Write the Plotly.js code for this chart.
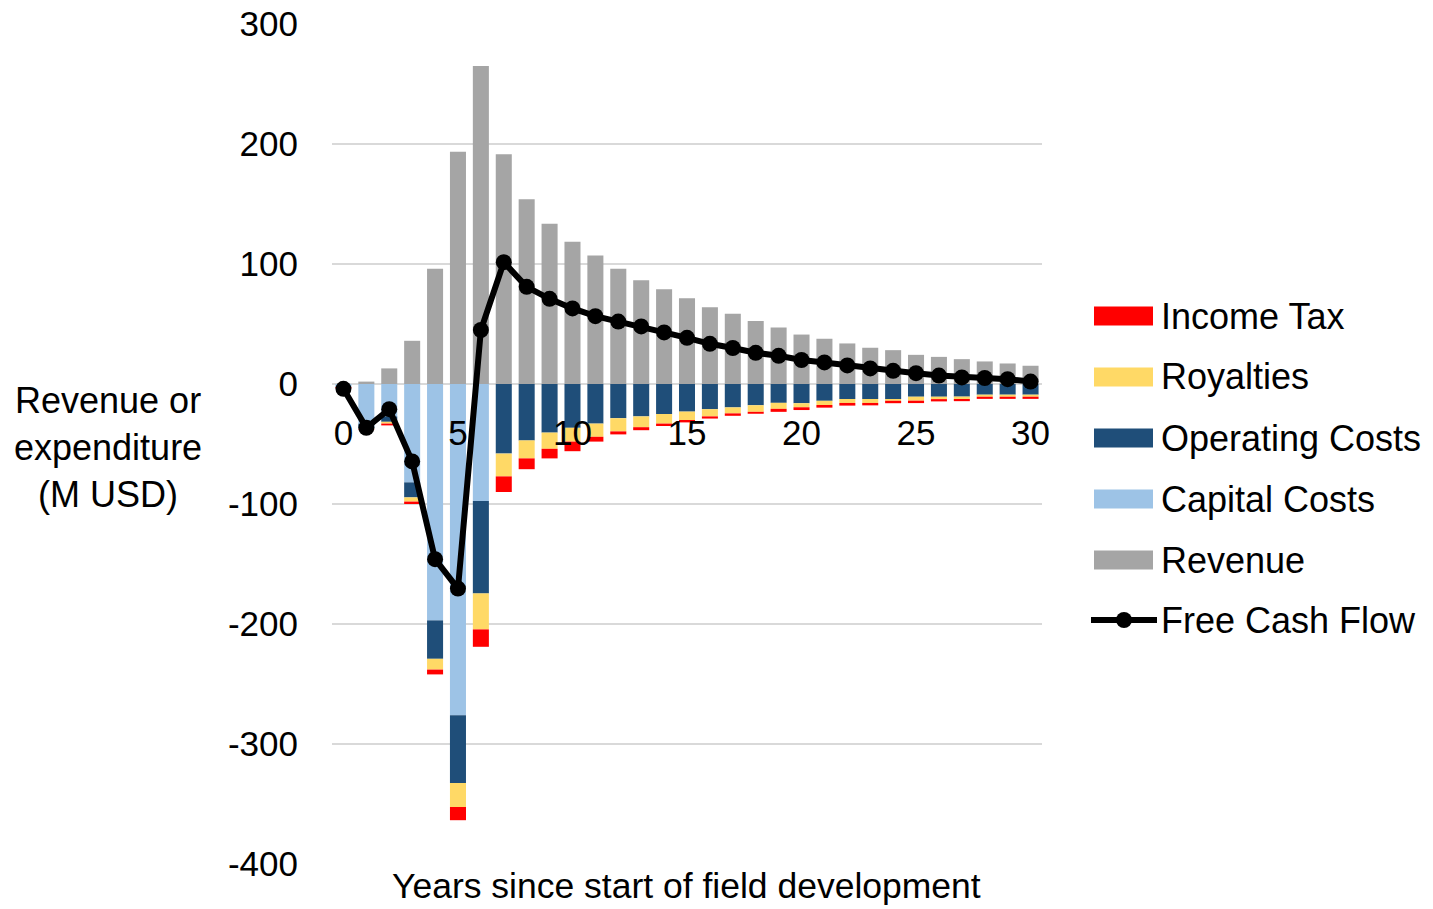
<!DOCTYPE html>
<html>
<head>
<meta charset="utf-8">
<script src="https://cdn.plot.ly/plotly-3.0.1.min.js"></script>
<style>
  html, body { margin: 0; padding: 0; background: #ffffff; }
  #chart { width: 1433px; height: 909px; }
</style>
</head>
<body>
<div id="chart"></div>
<script>
// ---- Data (M USD) ----
const years = [0,1,2,3,4,5,6,7,8,9,10,11,12,13,14,15,16,17,18,19,20,21,22,23,24,25,26,27,28,29,30];
const revenue = [0, 2, 13, 36, 96, 193.5, 265, 191.5, 154, 133.5, 118.5, 107, 96, 86.5, 79, 71.5, 64, 58.5, 52.5, 47, 41.2, 37.7, 33.8, 30.2, 28.2, 24.3, 22.6, 20.7, 18.8, 17.1, 15.2];
const capitalCosts = [-2.5, -33, -27, -82, -197, -276, -97.5, 0, 0, 0, 0, 0, 0, 0, 0, 0, 0, 0, 0, 0, 0, 0, 0, 0, 0, 0, 0, 0, 0, 0, 0];
const operatingCosts = [0, -4, -4.5, -12.5, -32, -56.5, -77, -58, -47, -40.5, -36.5, -33, -28.5, -27, -25, -23, -21, -19.5, -17.7, -15.7, -16, -14, -12.5, -12.5, -12.5, -10.6, -10.6, -10.5, -8.9, -8.9, -8.9];
const royalties = [0, -0.5, -1.5, -3.5, -9, -20, -30, -19, -15, -13.5, -11.5, -11, -11, -9, -8, -7, -6, -5, -5.5, -5, -3.4, -3.5, -3.3, -3.3, -1.5, -3.3, -2, -2, -1.7, -1.7, -1.7];
const incomeTax = [-1, -0.5, -1.5, -2, -4, -11, -14.5, -13, -9, -8, -8, -4, -2.5, -2.5, -2, -2, -1.8, -2, -1.6, -2.5, -2.3, -2.2, -2.2, -2, -2, -2, -1.9, -1.8, -1.8, -1.8, -1.8];
const freeCashFlow = [-4, -36.5, -21, -64.5, -146, -170.5, 45, 101.5, 81, 71, 63, 56.5, 52, 48, 43, 38.5, 33.5, 30, 26, 23.5, 20, 18, 15.5, 13, 11, 9, 7, 5.5, 5, 4, 2];
const xTicks = [0, 5, 10, 15, 20, 25, 30];
const yTicks = [-400, -300, -200, -100, 0, 100, 200, 300];

const seriesNames = ["Income Tax", "Royalties", "Operating Costs", "Capital Costs", "Revenue", "Free Cash Flow"];
const colors = {
  "Income Tax": "#FF0000",
  "Royalties": "#FFD966",
  "Operating Costs": "#1F4E79",
  "Capital Costs": "#9DC3E6",
  "Revenue": "#A5A5A5",
  "Free Cash Flow": "#000000"
};

// ---- Layout geometry ----
const W = 1433, H = 909;
const M = { l: 332, r: 391, t: 24, b: 45 };
const PW = W - M.l - M.r, PH = H - M.t - M.b;
const FONT = "Liberation Sans, Arial, Helvetica, sans-serif";
const px2x = px => (px - M.l) / PW;
const py2y = py => (H - M.b - py) / PH;

function barTrace(name, y) {
  return {
    type: "bar", name: name, x: years, y: y,
    marker: { color: colors[name], line: { width: 0 } },
    showlegend: false, hoverinfo: "x+y+name"
  };
}

const traces = [
  barTrace("Revenue", revenue),
  barTrace("Capital Costs", capitalCosts),
  barTrace("Operating Costs", operatingCosts),
  barTrace("Royalties", royalties),
  barTrace("Income Tax", incomeTax),
  {
    type: "scatter", mode: "lines+markers", name: "Free Cash Flow",
    x: years, y: freeCashFlow,
    line: { color: "#000000", width: 6 },
    marker: { color: "#000000", size: 16 },
    showlegend: false
  }
];

// ---- Custom legend (wide swatches like the original) ----
const shapes = [];
const annotations = [];
const legendRowY = [316, 377, 438, 499, 560, 621];
seriesNames.forEach((name, i) => {
  const cy = legendRowY[i];
  if (name === "Free Cash Flow") {
    shapes.push({ type: "line", xref: "paper", yref: "paper",
      x0: px2x(1091), x1: px2x(1157), y0: py2y(cy - 1), y1: py2y(cy - 1),
      line: { color: colors[name], width: 6 } });
    shapes.push({ type: "circle", xref: "paper", yref: "paper",
      x0: px2x(1116), x1: px2x(1132), y0: py2y(cy - 9), y1: py2y(cy + 7),
      fillcolor: colors[name], line: { color: colors[name], width: 0 } });
  } else {
    shapes.push({ type: "rect", xref: "paper", yref: "paper",
      x0: px2x(1094), x1: px2x(1153), y0: py2y(cy - 9.5), y1: py2y(cy + 9.5),
      fillcolor: colors[name], line: { width: 0 } });
  }
  annotations.push({ xref: "paper", yref: "paper", x: px2x(1159), y: py2y(cy),
    xanchor: "left", yanchor: "middle", showarrow: false, text: name,
    font: { family: FONT, size: 36, color: "#000000" } });
});

// Axis titles
annotations.push({ xref: "paper", yref: "paper", x: px2x(108), y: py2y(447),
  xanchor: "center", yanchor: "middle", showarrow: false, align: "center",
  text: "Revenue or<br>expenditure<br>(M USD)",
  font: { family: FONT, size: 36, color: "#000000" } });
annotations.push({ xref: "paper", yref: "paper", x: px2x(686), y: py2y(886),
  xanchor: "center", yanchor: "middle", showarrow: false, borderpad: 0,
  text: "Years since start of field development",
  font: { family: FONT, size: 35.5, color: "#000000" } });

const layout = {
  width: W, height: H,
  margin: M,
  paper_bgcolor: "#ffffff", plot_bgcolor: "#ffffff",
  barmode: "relative", bargap: 0.3,
  showlegend: false,
  font: { family: FONT, color: "#000000" },
  xaxis: {
    range: [-0.5, 30.5], tickmode: "array", tickvals: xTicks, ticktext: xTicks.map(String),
    anchor: "free", position: 400 / 700,
    showgrid: false, zeroline: false, showline: false,
    ticks: "outside", ticklen: 18, tickcolor: "rgba(0,0,0,0)",
    tickfont: { family: FONT, size: 35, color: "#000000" },
    layer: "above traces"
  },
  yaxis: {
    range: [-400, 300], tickmode: "array", tickvals: yTicks, ticktext: yTicks.map(String),
    showgrid: true, gridcolor: "#D9D9D9", gridwidth: 2,
    zeroline: true, zerolinecolor: "#D9D9D9", zerolinewidth: 2,
    showline: false,
    ticks: "outside", ticklen: 26, tickcolor: "rgba(0,0,0,0)",
    tickfont: { family: FONT, size: 35, color: "#000000" }
  },
  shapes: shapes,
  annotations: annotations
};

Plotly.newPlot("chart", traces, layout, { displayModeBar: false, staticPlot: true });
</script>
</body>
</html>
